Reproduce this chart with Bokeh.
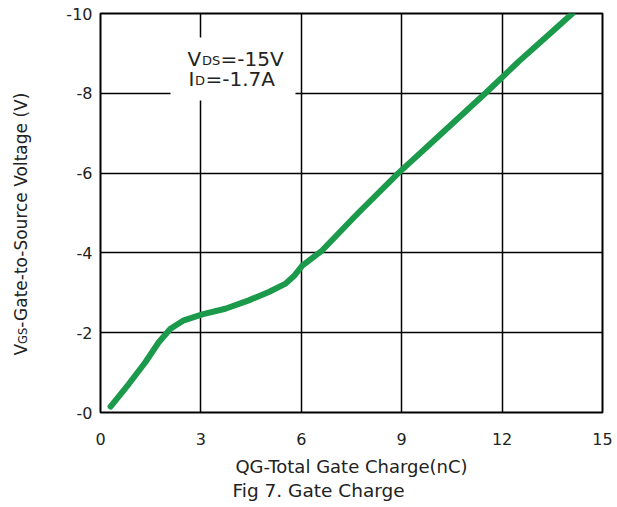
import math
from bokeh.plotting import figure
from bokeh.layouts import row
from bokeh.models import Range1d, FixedTicker, Label, BoxAnnotation, Title
from bokeh.embed import file_html
from bokeh.resources import INLINE

# ---- data ----
qg = [0.3, 0.85, 1.34, 1.74, 2.09, 2.49, 3.04, 3.73, 4.43, 5.03, 5.53, 5.78, 6.03, 6.62, 7.7, 8.9, 10.2, 11.5, 12.5, 13.3, 14.1]
vgs = [-0.15, -0.72, -1.26, -1.76, -2.1, -2.31, -2.46, -2.6, -2.81, -3.02, -3.23, -3.42, -3.68, -4.06, -5.0, -6.0, -7.0, -8.0, -8.8, -9.4, -10.0]

x_ticks = [0, 3, 6, 9, 12, 15]
y_ticks = [0, -2, -4, -6, -8, -10]
y_tick_labels = ["-0", "-2", "-4", "-6", "-8", "-10"]

x_label = "QG-Total Gate Charge(nC)"
caption = "Fig 7. Gate Charge"

FONT = "DejaVu Sans"
TXT = "#222222"

# frame geometry in picture px, used to place annotations
FL, FR, FT, FB = 100, 602, 13, 412
X0, X1, Y0, Y1 = 0, 15, 0, -10
LEFT_W = 40
TOTAL_H = 507


def px_x(px):
    return X0 + (px - FL) / (FR - FL) * (X1 - X0)


def px_y(py):
    return Y0 + (FB - py) / (FB - FT) * (Y1 - Y0)


# ---- narrow strip holding the rotated y-axis title (frame aligned with the main frame) ----
pl = figure(frame_width=LEFT_W, frame_height=FB - FT, output_backend="svg", toolbar_location=None,
            x_range=Range1d(0, LEFT_W), y_range=Range1d(FB, FT),
            x_axis_location=None, y_axis_location=None,
            min_border_left=0, min_border_right=0, min_border_top=FT,
            min_border_bottom=TOTAL_H - FB)
pl.outline_line_color = None
pl.xgrid.visible = False
pl.ygrid.visible = False
pl.background_fill_color = "white"
pl.border_fill_color = "white"


def ylab(text, px, py, size):
    pl.add_layout(Label(x=px, y=py, text=text, text_font=FONT, text_font_size=size,
                        text_color=TXT, text_align="left", text_baseline="alphabetic",
                        angle=math.pi / 2))


ylab("V", 20, 355, "17px")
ylab("GS", 22.5, 343.4, "11.5px")
ylab("-Gate-to-Source Voltage (V)", 20, 327.2, "17px")

# ---- main chart ----
p = figure(frame_width=FR - FL, frame_height=FB - FT, output_backend="svg", toolbar_location=None,
           x_range=Range1d(X0, X1), y_range=Range1d(Y0, Y1),
           min_border_left=FL - LEFT_W, min_border_right=15, min_border_top=FT,
           min_border_bottom=TOTAL_H - FB)

p.background_fill_color = "white"
p.border_fill_color = "white"
p.outline_line_color = "black"
p.outline_line_width = 2

for ax in (p.xaxis[0], p.yaxis[0]):
    ax.axis_line_color = None
    ax.major_tick_out = 0
    ax.major_tick_in = 0
    ax.minor_tick_out = 0
    ax.minor_tick_in = 0
    ax.major_label_text_font = FONT
    ax.major_label_text_font_size = "16px"
    ax.major_label_text_color = TXT

p.xaxis.ticker = FixedTicker(ticks=x_ticks)
p.yaxis.ticker = FixedTicker(ticks=y_ticks)
p.yaxis.major_label_overrides = dict(zip(y_ticks, y_tick_labels))
p.xaxis.major_label_standoff = 20
p.yaxis.major_label_standoff = 8

p.xaxis.axis_label = x_label
p.xaxis.axis_label_text_font = FONT
p.xaxis.axis_label_text_font_size = "18px"
p.xaxis.axis_label_text_font_style = "normal"
p.xaxis.axis_label_text_color = TXT
p.xaxis.axis_label_standoff = 8

p.xgrid.ticker = FixedTicker(ticks=x_ticks)
p.ygrid.ticker = FixedTicker(ticks=y_ticks)
for g in (p.xgrid[0], p.ygrid[0]):
    g.grid_line_color = "black"
    g.grid_line_width = 1.5
    g.grid_line_alpha = 1.0

p.line(qg, vgs, line_color="#1b9a4b", line_width=6, line_join="round", line_cap="round")

# white box behind the condition text
p.add_layout(BoxAnnotation(left=px_x(170), right=px_x(295), top=px_y(37), bottom=px_y(100),
                           fill_color="white", fill_alpha=1.0, line_color=None))


def lab(text, px, py, size):
    p.add_layout(Label(x=px_x(px), y=px_y(py), text=text, text_font=FONT,
                       text_font_size=size, text_color=TXT, text_align="left",
                       text_baseline="alphabetic"))


lab("V", 187, 58, "20px")
lab("DS", 201.5, 60, "13px")
lab("=-15V", 220, 58, "20px")
lab("I", 188, 78, "20px")
lab("D", 194.5, 80, "13px")
lab("=-1.7A", 205, 78, "20px")

t = Title(text=caption, align="left", offset=132, text_font=FONT, text_font_size="18.5px",
          text_font_style="normal", text_color=TXT, standoff=-3)
p.add_layout(t, "below")

layout = row(pl, p, spacing=0)
open("out.html", "w").write(file_html(layout, INLINE))
